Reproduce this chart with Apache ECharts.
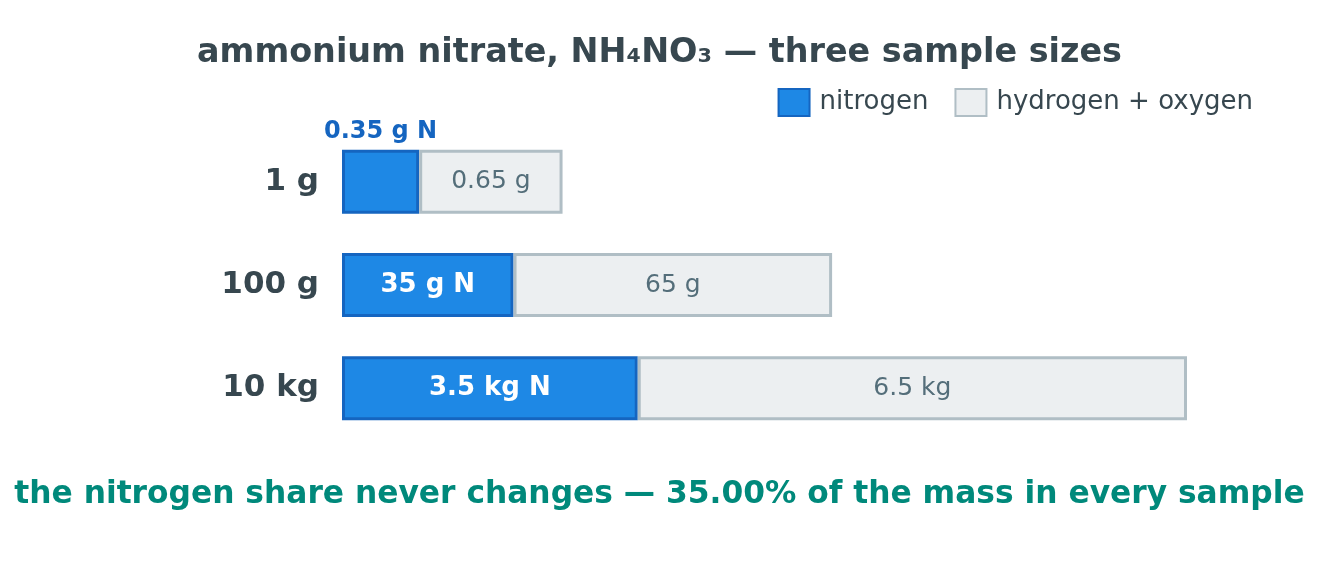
<!DOCTYPE html>
<html>
<head>
<meta charset="utf-8">
<script src="https://cdn.jsdelivr.net/npm/echarts@6/dist/echarts.min.js"></script>
<style>
html,body{margin:0;padding:0;background:#fff;}
#chart{width:1319px;height:570px;}
</style>
</head>
<body>
<div id="chart"></div>
<script>
// ---- data ----
const categories = ['1 g', '100 g', '10 kg'];
const nitrogenShare = [0.35, 0.35, 0.35];
const barLength = [2.61, 5.80, 10.0];           // relative drawn length of each sample bar
const nitrogenLabels = ['0.35 g N', '35 g N', '3.5 kg N'];
const restLabels = ['0.65 g', '65 g', '6.5 kg'];
const titleText = 'ammonium nitrate, NH\u2084NO\u2083 \u2014 three sample sizes';
const footerText = 'the nitrogen share never changes \u2014 35.00% of the mass in every sample';

const FONT = 'DejaVu Sans';
const nitrogenValues = barLength.map((l, i) => l * nitrogenShare[i]);
const restValues = barLength.map((l, i) => l * (1 - nitrogenShare[i]));

const chart = echarts.init(document.getElementById('chart'), null, {renderer: 'canvas'});
chart.setOption({
  backgroundColor: '#ffffff',
  animation: false,
  textStyle: {fontFamily: FONT},
  title: [
    {text: titleText, left: 'center', top: 32,
     textStyle: {fontFamily: FONT, fontSize: 33.4, fontWeight: 'bold', color: '#37474f'}},
    {text: footerText, left: 'center', top: 474,
     textStyle: {fontFamily: FONT, fontSize: 31.3, fontWeight: 'bold', color: '#00897b'}}
  ],
  legend: {
    right: 61, top: 83,
    itemWidth: 31, itemHeight: 27, itemGap: 26,
    icon: 'rect',
    textStyle: {fontFamily: FONT, fontSize: 26, color: '#37474f', padding: [0, 0, 0, 5]},
    data: ['nitrogen', 'hydrogen + oxygen']
  },
  grid: {left: 342, right: 132, top: 130, bottom: 130, containLabel: false},
  xAxis: {type: 'value', min: 0, max: 10, show: false},
  yAxis: {
    type: 'category', data: categories, inverse: true,
    axisLine: {show: false}, axisTick: {show: false}, splitLine: {show: false},
    axisLabel: {margin: 23, fontFamily: FONT, fontSize: 31, fontWeight: 'bold', color: '#37474f'}
  },
  series: [
    {
      name: 'nitrogen', type: 'bar', stack: 'mass', barWidth: 64,
      itemStyle: {color: '#1e88e5', borderColor: '#1565c0', borderWidth: 3},
      label: {show: true, position: 'inside', color: '#ffffff', fontFamily: FONT, fontSize: 26, fontWeight: 'bold',
              formatter: p => nitrogenLabels[p.dataIndex]},
      data: nitrogenValues.map((v, i) => i === 0 ? {
        value: v,
        label: {position: 'top', distance: 6, color: '#1565c0', fontSize: 24, fontWeight: 'bold'}
      } : v)
    },
    {
      name: 'hydrogen + oxygen', type: 'bar', stack: 'mass', barWidth: 64,
      itemStyle: {color: '#eceff1', borderColor: '#b0bec5', borderWidth: 3},
      label: {show: true, position: 'inside', color: '#546e7a', fontFamily: FONT, fontSize: 25,
              formatter: p => restLabels[p.dataIndex]},
      data: restValues
    }
  ]
});
</script>
</body>
</html>
